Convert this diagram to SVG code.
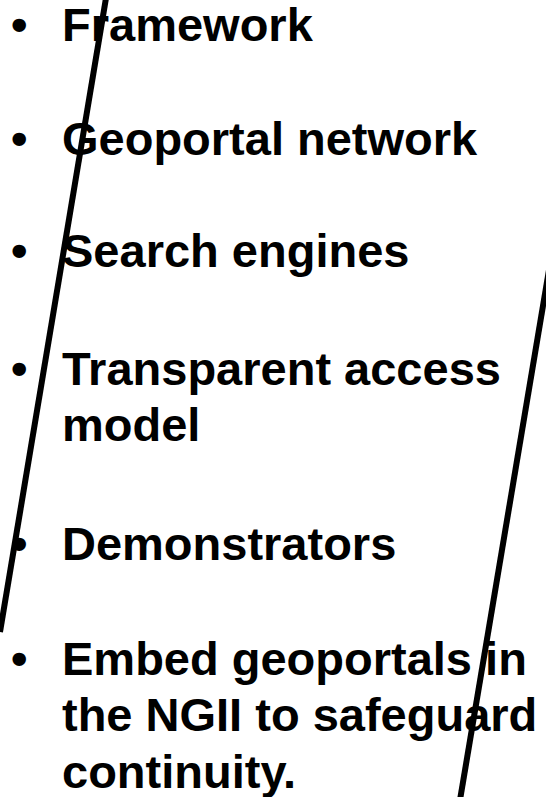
<svg xmlns="http://www.w3.org/2000/svg" width="546" height="797" viewBox="0 0 546 797">
<style>
.t{font-family:"Liberation Sans",Arial,sans-serif;font-weight:bold;font-size:47px;fill:#000}
.ln{stroke:#000;stroke-width:6;fill:none}
</style>
<rect width="546" height="797" fill="#fff"/>
<g id="items">
<g id="i1"><text class="t" x="11" y="41">•</text><text class="t" x="62" y="41">Framework</text></g>
<g id="i2"><text class="t" x="11" y="155">•</text><text class="t" x="62" y="155">Geoportal network</text></g>
<g id="i3"><text class="t" x="11" y="267">•</text><text class="t" x="62" y="267">Search engines</text></g>
<g id="i4"><text class="t" x="11" y="385">•</text><text class="t" x="62" y="385">Transparent access</text><text class="t" x="62" y="441">model</text></g>
<g id="i5"><text class="t" x="11" y="560">•</text><text class="t" x="62" y="560">Demonstrators</text></g>
<g id="i6"><text class="t" x="11" y="675">•</text><text class="t" x="62" y="675">Embed geoportals in</text><text class="t" x="62" y="731">the NGII to safeguard</text><text class="t" x="62" y="788">continuity.</text></g>
</g>
<g id="lines">
<line class="ln" x1="106" y1="-2" x2="0" y2="632"/>
<line class="ln" x1="549" y1="270" x2="460" y2="800"/>
</g>
</svg>
